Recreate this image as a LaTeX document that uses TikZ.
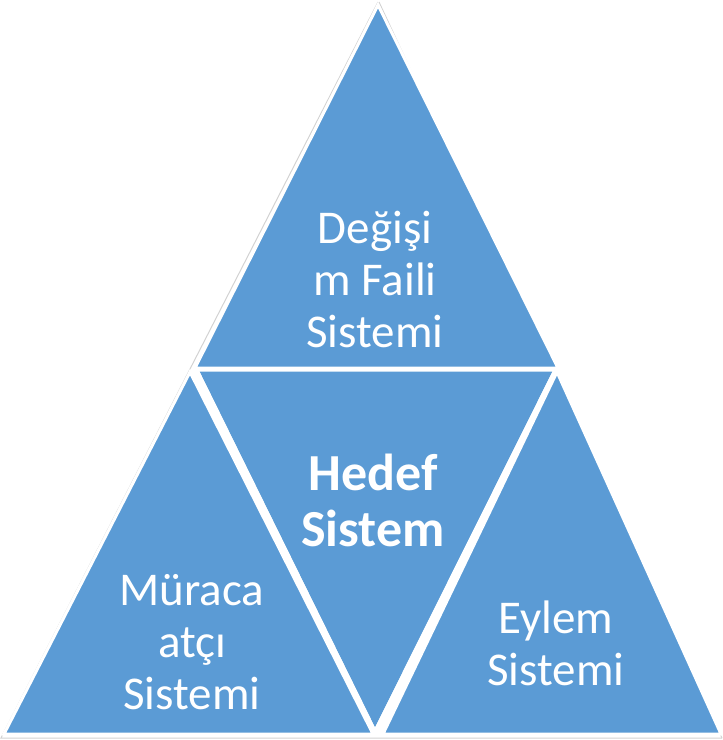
\documentclass[tikz,border=0pt]{standalone}
\usepackage{fontspec}
\setmainfont{Carlito}
\definecolor{sysblue}{RGB}{91,155,213}
\tikzset{
  part/.style={fill=sysblue, draw=white, line width=3pt, line join=miter},
  label/.style={text=white, align=center, font=\fontsize{47}{52}\selectfont}
}
\begin{document}
\begin{tikzpicture}[x=1pt,y=-1pt]
\useasboundingbox (0,0) rectangle (723,740);
% outer rim
\draw[gray!35, line width=1pt] (378,2) -- (1,738) -- (722,738);
\draw[gray!35, line width=1pt] (379,2) -- (722,738);

\fill[part] (378,5) -- (195,368) -- (558,368) -- cycle;
\fill[part] (197,370) -- (555,370) -- (375,731) -- cycle;
\fill[part] (190,372) -- (4,734) -- (373,734) -- cycle;
\fill[part] (557,372) -- (383,734) -- (721,734) -- cycle;
\draw[white, line width=3pt] (195,368) -- (558,368);
\draw[white, line width=3pt] (197,370) -- (375,731) -- (555,370);

\node[label] (agent) at (375,279) {Değişi\\m Faili\\Sistemi};
\node[label, font=\fontsize{52}{56}\selectfont\bfseries] (target) at (373,500) {Hedef\\Sistem};
\node[label] (client) at (192,642) {Müraca\\atçı\\Sistemi};
\node[label] (action) at (556,643) {Eylem\\Sistemi};
\end{tikzpicture}
\end{document}
